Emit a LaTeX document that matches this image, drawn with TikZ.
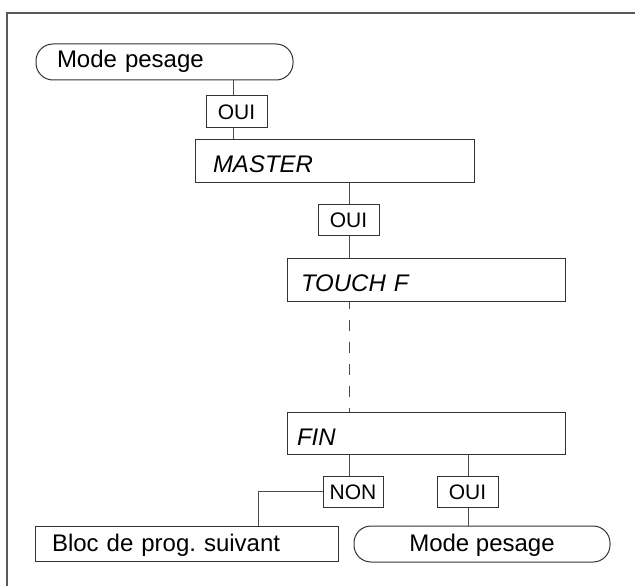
\documentclass[tikz,border=0pt]{standalone}
\usepackage{fontspec}
\setmainfont{Liberation Sans}
\frenchspacing
\begin{document}
\begin{tikzpicture}[x=1pt,y=-1pt,
  box/.style={draw=black!80, line width=1pt, inner ysep=0pt, font=\fontsize{24}{28}\selectfont, align=left, text height=17pt, text depth=2pt},
  ibox/.style={box, text height=24pt, text depth=0pt},
  term/.style={box, rounded corners=17pt},
  lab/.style={draw=black!80, line width=1pt, inner sep=0pt, minimum height=31pt, font=\fontsize{21}{24}\selectfont, text height=15pt, text depth=0pt},
  conn/.style={draw=black!70, line width=1pt},
  frame/.style={draw=black!65, line width=2pt}]
\useasboundingbox (0,0) rectangle (635,586);
\draw[frame] (7,586) -- (7,13) -- (635,13);
\node[term, inner xsep=21pt, text width=215pt, minimum height=36pt, text depth=5pt, text height=17pt] (mp1) at (164.5,62) {Mode pesage};
\node[lab, minimum width=61pt] (oui1) at (236.5,111.5) {OUI};
\node[ibox, inner xsep=18pt, text width=243pt, minimum height=43pt] (master) at (334.5,160.5) {\itshape MASTER};
\node[lab, minimum width=61pt] (oui2) at (348.5,219.5) {OUI};
\node[ibox, inner xsep=14pt, text width=250pt, minimum height=43pt] (touch) at (426,279.5) {\itshape TOUCH F};
\node[ibox, inner xsep=10pt, text width=258pt, minimum height=42pt] (fin) at (426,433) {\itshape FIN};
\node[lab, minimum width=60pt] (non) at (353,491.5) {NON};
\node[lab, minimum width=61pt] (oui3) at (467.5,491.5) {OUI};
\node[box, inner xsep=17pt, text width=269pt, minimum height=35pt] (bloc) at (186.5,543.5) {Bloc de prog. suivant};
\node[term, align=center, minimum width=256pt, minimum height=36pt, inner xsep=0pt] (mp2) at (482,544) {Mode pesage};
\coordinate (xa) at (233,0);
\coordinate (xb) at (349,0);
\coordinate (xc) at (468,0);
\coordinate (xd) at (258,0);
\draw[conn] (mp1.south -| xa) -- (oui1.north -| xa);
\draw[conn] (oui1.south -| xa) -- (master.north -| xa);
\draw[conn] (master.south -| xb) -- (oui2.north -| xb);
\draw[conn] (oui2.south -| xb) -- (touch.north -| xb);
\draw[conn, dash pattern=on 11pt off 11pt, dash phase=4pt] (touch.south -| xb) -- (fin.north -| xb);
\draw[conn] (fin.south -| xb) -- (non.north -| xb);
\draw[conn] (fin.south -| xc) -- (oui3.north -| xc);
\draw[conn] (oui3.south -| xc) -- (mp2.north -| xc);
\draw[conn] (non.west) -| (bloc.north -| xd);
\end{tikzpicture}
\end{document}
